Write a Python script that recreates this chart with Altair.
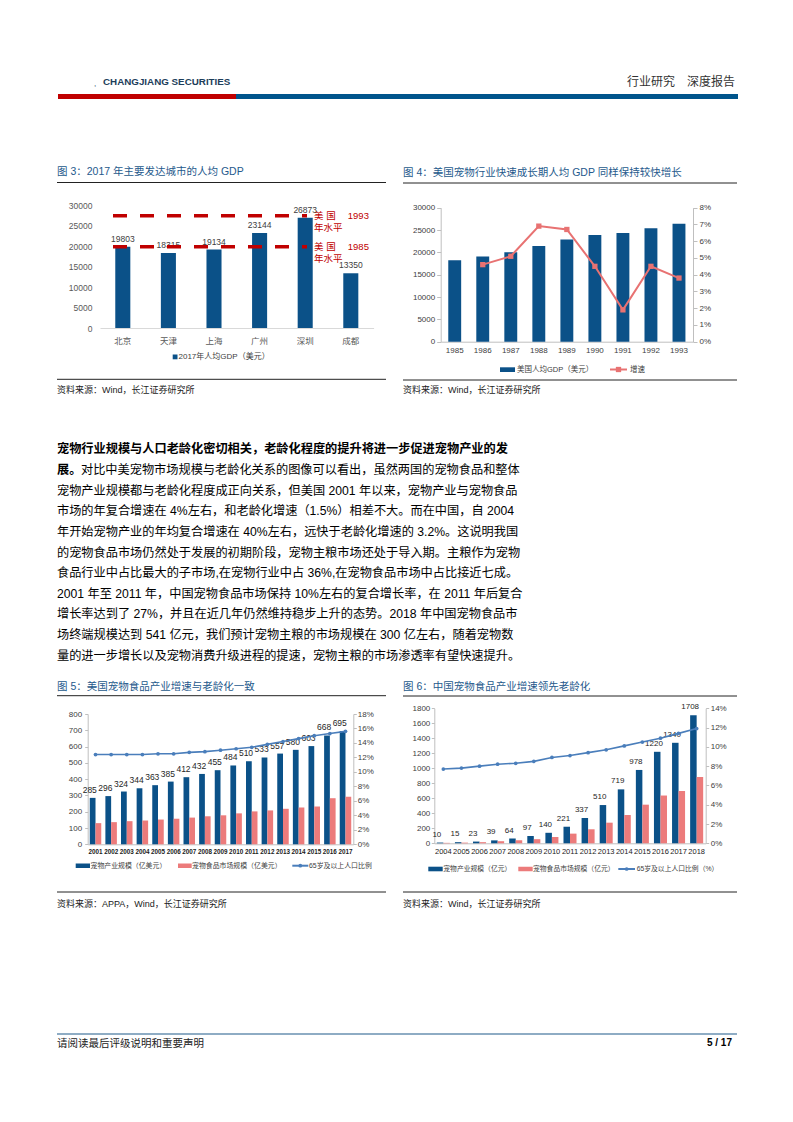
import altair as alt
import pandas as pd

FONT = "Liberation Sans, Noto Sans CJK SC"
BLUE = "#0B5188"
PINK = "#EC7B7B"
SALMON = "#E87272"
LINEBLUE = "#4A7EBB"
DARKRED = "#C00000"
TITLE = "#25598C"
AXIS_GRAY = "#BFBFBF"
LABEL = "#404040"
W, H = 777, 1106

# ---------------- data ----------------
cities = ["北京", "天津", "上海", "广州", "深圳", "成都"]
gdp_2017 = [19803, 18315, 19134, 23144, 26873, 13350]
us_level_values = [27400, 19800]
us_level_labels = ["美 国\u3000 1993\n年水平", "美 国\u3000 1985\n年水平"]

years_us_gdp = ["1985", "1986", "1987", "1988", "1989", "1990", "1991", "1992", "1993"]
us_gdp = [18237, 19071, 20039, 21417, 22857, 23889, 24342, 25419, 26387]
us_gdp_growth = [None, 4.6, 5.1, 6.9, 6.7, 4.5, 1.9, 4.5, 3.8]

years_us = ["2001", "2002", "2003", "2004", "2005", "2006", "2007", "2008", "2009",
            "2010", "2011", "2012", "2013", "2014", "2015", "2016", "2017"]
us_pet_industry = [285, 296, 324, 344, 363, 385, 412, 432, 455, 484, 510, 533, 557, 580, 603, 668, 695]
us_pet_food = [130, 136, 142, 146, 152, 157, 164, 172, 178, 190, 202, 208, 218, 226, 232, 283, 292]
us_aged = [12.4, 12.4, 12.4, 12.4, 12.5, 12.5, 12.7, 12.8, 13.0, 13.2, 13.4, 13.8, 14.2, 14.6, 15.0, 15.3, 15.6]

years_cn = ["2004", "2005", "2006", "2007", "2008", "2009", "2010", "2011", "2012",
            "2013", "2014", "2015", "2016", "2017", "2018"]
cn_pet_industry = [10, 15, 23, 39, 64, 97, 140, 221, 337, 510, 719, 978, 1220, 1340, 1708]
cn_pet_food = [6, 9, 15, 28, 40, 55, 84, 129, 187, 275, 377, 515, 637, 697, 884]
cn_aged = [7.7, 7.8, 8.0, 8.2, 8.3, 8.5, 8.9, 9.1, 9.4, 9.7, 10.1, 10.5, 10.9, 11.4, 11.9]

paragraph_bold_1 = "宠物行业规模与人口老龄化密切相关，老龄化程度的提升将进一步促进宠物产业的发"
paragraph_bold_2 = "展。"
paragraph_rest_2 = "对比中美宠物市场规模与老龄化关系的图像可以看出，虽然两国的宠物食品和整体"
paragraph_lines = [
    "宠物产业规模都与老龄化程度成正向关系，但美国 2001 年以来，宠物产业与宠物食品",
    "市场的年复合增速在 4%左右，和老龄化增速（1.5%）相差不大。而在中国，自 2004",
    "年开始宠物产业的年均复合增速在 40%左右，远快于老龄化增速的 3.2%。这说明我国",
    "的宠物食品市场仍然处于发展的初期阶段，宠物主粮市场还处于导入期。主粮作为宠物",
    "食品行业中占比最大的子市场,在宠物行业中占 36%,在宠物食品市场中占比接近七成。",
    "2001 年至 2011 年，中国宠物食品市场保持 10%左右的复合增长率，在 2011 年后复合",
    "增长率达到了 27%，并且在近几年仍然维持稳步上升的态势。2018 年中国宠物食品市",
    "场终端规模达到 541 亿元，我们预计宠物主粮的市场规模在 300 亿左右，随着宠物数",
    "量的进一步增长以及宠物消费升级进程的提速，宠物主粮的市场渗透率有望快速提升。",
]

one = pd.DataFrame({"k": [0]})


def txt(s, x, y, size=9, color="#333333", align="left", weight="normal", font=FONT, baseline="middle"):
    return alt.Chart(one).mark_text(text=s, align=align, baseline=baseline, fontSize=size,
                                    color=color, fontWeight=weight, font=font).encode(
        x=alt.value(x), y=alt.value(y))


def rect(x, x2, y, y2, color):
    return alt.Chart(one).mark_rect(color=color).encode(
        x=alt.value(x), x2=alt.value(x2), y=alt.value(y), y2=alt.value(y2))


def hline(x, x2, y, color="#222222", w=1.0):
    return alt.Chart(one).mark_rule(color=color, strokeWidth=w).encode(
        x=alt.value(x), x2=alt.value(x2), y=alt.value(y))


def legend_line(x, x2, y, color, shape, size=22):
    ln = hline(x, x2, y, color, 2)
    pt = alt.Chart(one).mark_point(shape=shape, filled=True, size=size, color=color, opacity=1).encode(
        x=alt.value((x + x2) / 2), y=alt.value(y))
    return [ln, pt]


decor = []
# header
decor += [
    txt(",", 86, 76, size=8, color="#1C3D5A", font="Liberation Sans"),
    txt("CHANGJIANG SECURITIES", 95, 74, size=9.8, color="#1C3D5A", weight="bold", font="Liberation Sans"),
    txt("行业研究　深度报告", 727, 74, size=12, color="#333333", align="right"),
    rect(50, 228, 86, 91, "#C00000"),
    rect(228, 730, 86, 91, "#00558C"),
]
# figure 3 frame
decor += [
    txt("图 3：2017 年主要发达城市的人均 GDP", 49, 164, size=10.5, color=TITLE),
    hline(49, 378, 174.5),
    rect(164.7, 169.5, 346.5, 351.3, BLUE),
    txt("2017年人均GDP（美元）", 170.5, 349, size=8, color=LABEL),
    hline(49, 378, 371.3),
    txt("资料来源：Wind，长江证券研究所", 49, 382, size=9, color="#222222"),
]
# figure 4 frame
decor += [
    txt("图 4：美国宠物行业快速成长期人均 GDP 同样保持较快增长", 395, 164.7, size=10.5, color=TITLE),
    hline(395, 729, 175),
    rect(492, 507, 359.3, 364, BLUE),
    txt("美国人均GDP（美元）", 509, 361.5, size=7.5, color=LABEL),
]
decor += legend_line(602, 619, 361.5, SALMON, "square", 28)
decor += [
    txt("增速", 622, 361.5, size=7.5, color=LABEL),
    hline(395, 729, 372),
    txt("资料来源：Wind，长江证券研究所", 395, 382, size=9, color="#222222"),
]
# paragraph
LH = 20.64
decor += [
    txt(paragraph_bold_1, 49, 441.3, size=12.2, color="#000000", weight="bold"),
    txt(paragraph_bold_2, 49, 441.3 + LH, size=12.2, color="#000000", weight="bold"),
    txt(paragraph_rest_2, 73, 441.3 + LH, size=12.2, color="#000000"),
]
for i, line in enumerate(paragraph_lines):
    decor.append(txt(line, 49, 441.3 + LH * (i + 2), size=12.2, color="#000000"))
# figure 5 frame
decor += [
    txt("图 5：美国宠物食品产业增速与老龄化一致", 49, 678.7, size=10.5, color=TITLE),
    hline(49, 378, 687.7),
    rect(67.7, 82, 855.5, 860, BLUE),
    txt("宠物产业规模（亿美元）", 82.5, 857.7, size=6.9, color=LABEL),
    rect(170, 183.7, 855.5, 860, PINK),
    txt("宠物食品市场规模（亿美元）", 184, 857.7, size=6.9, color=LABEL),
]
decor += legend_line(284.3, 300.3, 857.7, LINEBLUE, "circle", 14)
decor += [
    txt("65岁及以上人口比例", 301, 857.7, size=6.9, color=LABEL),
    hline(49, 378, 884),
    txt("资料来源：APPA，Wind，长江证券研究所", 49, 896, size=9, color="#222222"),
]
# figure 6 frame
decor += [
    txt("图 6：中国宠物食品产业增速领先老龄化", 395, 678.7, size=10.5, color=TITLE),
    hline(395, 729, 688),
    rect(420.3, 434.7, 858.7, 863.3, BLUE),
    txt("宠物产业规模（亿元）", 435.3, 861, size=6.8, color=LABEL),
    rect(510.3, 524.7, 858.7, 863.3, PINK),
    txt("宠物食品市场规模（亿元）", 525, 861, size=6.8, color=LABEL),
]
decor += legend_line(610.3, 627, 861, LINEBLUE, "circle", 14)
decor += [
    txt("65岁及以上人口比例（%）", 628.7, 861, size=6.8, color=LABEL),
    hline(395, 729, 884),
    txt("资料来源：Wind，长江证券研究所", 395, 896, size=9, color="#222222"),
]
# footer
decor += [
    hline(49, 729, 1026, "#1F5A8A", 1.2),
    txt("请阅读最后评级说明和重要声明", 49, 1036, size=10.5, color="#222222"),
    txt("5 / 17", 724, 1035, size=10, color="#000000", align="right", weight="bold", font="Liberation Sans"),
]


def left_axis(offset, vals, fmt, size=8, ticks=True, domain=True, tsize=4, pad=2, color=LABEL):
    return alt.Axis(orient="left", offset=offset, values=vals, format=fmt, grid=False,
                    ticks=ticks, tickSize=tsize if ticks else 0, domain=domain,
                    domainColor=AXIS_GRAY, tickColor=AXIS_GRAY, labelPadding=pad,
                    labelFontSize=size, labelColor=color, labelFont=FONT)


def right_axis(offset, vals, fmt, size=8, tsize=4, pad=2):
    return alt.Axis(orient="right", offset=offset, values=vals, format=fmt, grid=False,
                    ticks=True, tickSize=tsize, domain=True, domainColor=AXIS_GRAY,
                    tickColor=AXIS_GRAY, labelPadding=pad, labelFontSize=size,
                    labelColor=LABEL, labelFont=FONT)


def bottom_axis(y, size, pad, color=LABEL, dcolor=AXIS_GRAY, weight="normal"):
    return alt.Axis(orient="bottom", offset=y - H, grid=False, ticks=False, tickSize=0,
                    domainColor=dcolor, labelPadding=pad, labelFontSize=size, labelColor=color,
                    labelAngle=0, labelOverlap=False, labelFont=FONT, labelFontWeight=weight)


def band(field, domain, rng, pin, axis=None):
    scale = alt.Scale(domain=domain, range=rng, paddingInner=pin, paddingOuter=pin / 2)
    if axis is None:
        return alt.X(field, title=None, scale=scale, axis=None)
    return alt.X(field, title=None, scale=scale, axis=axis)


def lin(field, domain, rng, axis=None):
    scale = alt.Scale(domain=domain, range=rng, nice=False, zero=True)
    if axis is None:
        return alt.Y(field, title=None, scale=scale, axis=None)
    return alt.Y(field, title=None, scale=scale, axis=axis)


# ---------------- figure 3 ----------------
df3 = pd.DataFrame({"city": cities, "gdp": gdp_2017})
df3l = pd.DataFrame({"level": us_level_values, "label": us_level_labels})
R3X, R3Y, D3 = [92, 365.6], [320, 197], [0, 30000]
bars3 = alt.Chart(df3).mark_bar(color=BLUE).encode(
    x=band("city:N", cities, R3X, 0.67, bottom_axis(320, 8.5, 8.5, color="#595959", dcolor="#D9D9D9")),
    y=lin("gdp:Q", D3, R3Y, left_axis(-92, list(range(0, 30001, 5000)), "d", size=8.5, ticks=False,
                                        domain=False, pad=8, color="#595959")))
lab3 = alt.Chart(df3).mark_text(baseline="bottom", dy=-3, fontSize=8.5, color=LABEL).encode(
    x=band("city:N", cities, R3X, 0.67), y=lin("gdp:Q", D3, R3Y), text="gdp:Q")
rule3 = alt.Chart(df3l).mark_rule(color=DARKRED, strokeWidth=3.5, strokeDash=[14, 13]).encode(
    y=lin("level:Q", D3, R3Y), x=alt.value(105), x2=alt.value(299))
ann3 = alt.Chart(df3l).mark_text(align="left", baseline="middle", lineBreak="\n", lineHeight=12.5,
                                 fontSize=9.5, color=DARKRED).encode(
    y=lin("level:Q", D3, R3Y), x=alt.value(306), text="label:N")

# ---------------- figure 4 ----------------
df4 = pd.DataFrame({"year": years_us_gdp, "gdp": us_gdp, "growth": us_gdp_growth})
df4["growth_frac"] = df4["growth"] / 100
R4X, R4Y = [432.7, 685], [333.7, 199.7]
bars4 = alt.Chart(df4).mark_bar(color=BLUE).encode(
    x=band("year:N", years_us_gdp, R4X, 0.54, bottom_axis(333.7, 8, 5)),
    y=lin("gdp:Q", [0, 30000], R4Y, left_axis(-432.7, list(range(0, 30001, 5000)), "d")))
line4 = alt.Chart(df4).mark_line(color=SALMON, strokeWidth=2,
                                 point=alt.OverlayMarkDef(shape="square", size=28, filled=True,
                                                          color=SALMON)).encode(
    x=band("year:N", years_us_gdp, R4X, 0.54),
    y=lin("growth_frac:Q", [0, 0.08], R4Y,
          right_axis(685 - W, [i / 100 for i in range(0, 9)], ".0%")))

# ---------------- figure 5 ----------------
S5 = ["宠物产业规模（亿美元）", "宠物食品市场规模（亿美元）"]
df5 = pd.concat([
    pd.DataFrame({"year": years_us, "series": S5[0], "value": us_pet_industry}),
    pd.DataFrame({"year": years_us, "series": S5[1], "value": us_pet_food}),
])
df5lab = pd.DataFrame({"year": years_us, "series": S5[0], "value": us_pet_industry})
df5line = pd.DataFrame({"year": years_us, "aged": us_aged})
df5line["aged_frac"] = df5line["aged"] / 100
R5X, R5Y = [79.7, 345.3], [836.3, 706]
xo5 = alt.XOffset("series:N", scale=alt.Scale(domain=S5, paddingInner=0, paddingOuter=0))
bars5 = alt.Chart(df5).mark_bar().encode(
    x=band("year:N", years_us, R5X, 0.264, bottom_axis(836.3, 6.3, 4, color="#1A1A1A", weight="bold")),
    xOffset=xo5,
    y=lin("value:Q", [0, 800], R5Y, left_axis(-79.7, list(range(0, 801, 100)), "d", tsize=3, pad=3)),
    color=alt.Color("series:N", scale=alt.Scale(domain=S5, range=[BLUE, PINK]), legend=None))
lab5 = alt.Chart(df5lab).mark_text(baseline="bottom", dy=-3, fontSize=8.5, color="#262626").encode(
    x=band("year:N", years_us, R5X, 0.264), xOffset=xo5, y=lin("value:Q", [0, 800], R5Y), text="value:Q")
line5 = alt.Chart(df5line).mark_line(color=LINEBLUE, strokeWidth=1.6,
                                     point=alt.OverlayMarkDef(shape="circle", size=14, filled=True,
                                                              color=LINEBLUE)).encode(
    x=band("year:N", years_us, R5X, 0.264),
    y=lin("aged_frac:Q", [0, 0.18], R5Y,
          right_axis(345.3 - W, [i / 100 for i in range(0, 19, 2)], ".0%", tsize=3, pad=1)))

# ---------------- figure 6 ----------------
S6 = ["宠物产业规模（亿元）", "宠物食品市场规模（亿元）"]
df6 = pd.concat([
    pd.DataFrame({"year": years_cn, "series": S6[0], "value": cn_pet_industry}),
    pd.DataFrame({"year": years_cn, "series": S6[1], "value": cn_pet_food}),
])
df6lab = pd.DataFrame({"year": years_cn, "series": S6[0], "value": cn_pet_industry})
df6line = pd.DataFrame({"year": years_cn, "aged": cn_aged})
df6line["aged_frac"] = df6line["aged"] / 100
R6X, R6Y = [426.3, 697.7], [835.3, 700.3]
xo6 = alt.XOffset("series:N", scale=alt.Scale(domain=S6, paddingInner=0, paddingOuter=0))
bars6 = alt.Chart(df6).mark_bar().encode(
    x=band("year:N", years_cn, R6X, 0.28, bottom_axis(835.3, 7.5, 4.5, color="#1A1A1A")),
    xOffset=xo6,
    y=lin("value:Q", [0, 1800], R6Y, left_axis(-426.3, list(range(0, 1801, 200)), "d", tsize=3, pad=1.5)),
    color=alt.Color("series:N", scale=alt.Scale(domain=S6, range=[BLUE, PINK]), legend=None))
lab6 = alt.Chart(df6lab).mark_text(baseline="bottom", dy=-4, fontSize=8, color="#262626").encode(
    x=band("year:N", years_cn, R6X, 0.28), xOffset=xo6, y=lin("value:Q", [0, 1800], R6Y), text="value:Q")
line6 = alt.Chart(df6line).mark_line(color=LINEBLUE, strokeWidth=1.6,
                                     point=alt.OverlayMarkDef(shape="circle", size=14, filled=True,
                                                              color=LINEBLUE)).encode(
    x=band("year:N", years_cn, R6X, 0.28),
    y=lin("aged_frac:Q", [0, 0.14], R6Y,
          right_axis(697.7 - W, [i / 100 for i in range(0, 15, 2)], ".0%", tsize=3, pad=1.5)))

charts = [bars3, lab3, rule3, ann3, bars4, line4, bars5, lab5, line5, bars6, lab6, line6]

page = alt.layer(*decor, *charts).resolve_scale(
    x="independent", y="independent", xOffset="independent", color="independent"
).properties(
    width=W, height=H, padding=0, autosize=alt.AutoSizeParams(type="none")
).configure(font=FONT).configure_view(strokeWidth=0)

page.save("out.html", embed_options={"renderer": "svg", "actions": False})
